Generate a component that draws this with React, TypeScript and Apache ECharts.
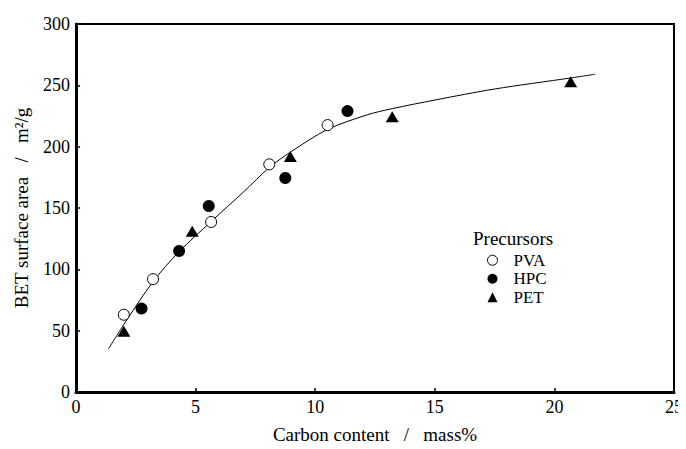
import React, { useEffect, useRef } from "react";
import * as echarts from "echarts";

const pvaData: [number, number][] = [
  [2.0, 63], [3.22, 92], [5.65, 138.6], [8.08, 185.6], [10.52, 217.6],
];
const hpcData: [number, number][] = [
  [2.74, 68], [4.31, 115], [5.55, 151.6], [8.75, 174.5], [11.35, 229],
];
const petData: [number, number][] = [
  [2.0, 49.5], [4.86, 131], [8.96, 192], [13.22, 224.4], [20.68, 253],
];
const fitCurve: [number, number][] = [
  [1.35, 35], [2, 55], [3.22, 90], [4.29, 114], [5.65, 139], [7, 163],
  [8.08, 183], [9, 196], [10.51, 214], [12.18, 226], [13.22, 231], [15, 238],
  [17.5, 247], [20.68, 256], [21.7, 259],
];

const FONT = "Liberation Serif";

export default function App() {
  const ref = useRef<HTMLDivElement>(null);
  useEffect(() => {
    const chart = echarts.init(ref.current!, null, { renderer: "svg" });
    const axisCommon = {
      axisLine: { show: true, lineStyle: { color: "#000", width: 3 } },
      axisTick: { show: true, inside: true, length: 4, lineStyle: { color: "#000", width: 1.5 } },
      splitLine: { show: false },
      axisLabel: { color: "#000", fontFamily: FONT, fontSize: 18, margin: 6 },
      nameTextStyle: { color: "#000", fontFamily: FONT, fontSize: 19 },
    };
    chart.setOption({
      animation: false,
      backgroundColor: "#fff",
      grid: { left: 76, right: 10, top: 24, bottom: 55, show: true, borderColor: "#000", borderWidth: 2 },
      xAxis: {
        type: "value", min: 0, max: 25, interval: 5,
        name: "Carbon content   /   mass%", nameLocation: "middle", nameGap: 33,
        ...axisCommon,
      },
      yAxis: {
        type: "value", min: 0, max: 300, interval: 50,
        name: "BET surface area   /   m²/g", nameLocation: "middle", nameGap: 45,
        ...axisCommon,
      },
      legend: {
        orient: "vertical", left: 482, top: 246, itemWidth: 10, itemHeight: 10, itemGap: 0,
        textStyle: { color: "#000", fontFamily: FONT, fontSize: 17, padding: [0, 0, 0, 11], lineHeight: 18.5 },
        data: [
          { name: "PVA", itemStyle: { borderWidth: 1 } },
          { name: "HPC" },
          { name: "PET" },
        ],
      },
      graphic: [
        { type: "text", left: 473, top: 229, style: { text: "Precursors", fontFamily: FONT, fontSize: 19, fill: "#000" } },
      ],
      series: [
        { type: "line", data: fitCurve, smooth: 0.3, symbol: "none", lineStyle: { color: "#000", width: 1 }, silent: true, z: 1 },
        { name: "PVA", type: "scatter", data: pvaData, symbol: "circle", symbolSize: 11,
          itemStyle: { color: "#fff", borderColor: "#000", borderWidth: 1, opacity: 1 }, z: 3 },
        { name: "HPC", type: "scatter", data: hpcData, symbol: "circle", symbolSize: 12,
          itemStyle: { color: "#000", opacity: 1 }, z: 3 },
        { name: "PET", type: "scatter", data: petData, symbol: "triangle", symbolSize: [13, 11],
          itemStyle: { color: "#000", opacity: 1 }, z: 3 },
      ],
    });
    return () => chart.dispose();
  }, []);
  return <div ref={ref} style={{ width: 686, height: 449, margin: -8 }} />;
}
